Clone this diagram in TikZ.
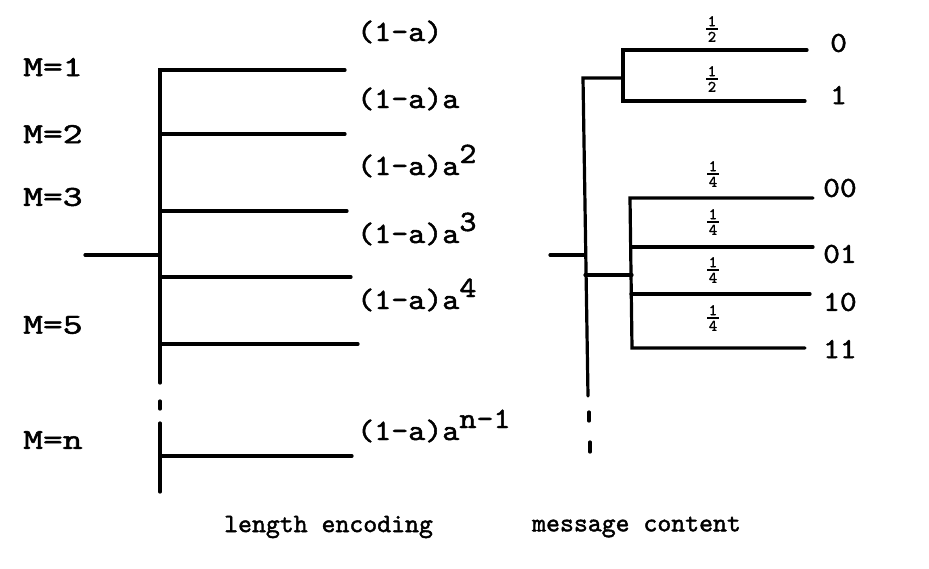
\documentclass[tikz,border=0pt]{standalone}
\usepackage{graphicx}
\usepackage{fontspec}
% typewriter face: Latin Modern Mono, thickened
\newfontfamily\typeface{lmmono10-regular.otf}[FakeBold=1.6]
\newcommand{\wide}[2][1.3]{\scalebox{#1}[1]{#2}}
\newcommand{\sprs}[1]{\raisebox{12pt}{#1}}
% small stacked fraction: numerator, bar, denominator
\newcommand{\probfrac}[2]{\vbox{\hbox to 12pt{\hss#1\hss}\kern2.2pt
  \hrule height 1.3pt\kern2.2pt\hbox to 12pt{\hss#2\hss}}}
\begin{document}
\begin{tikzpicture}[x=1pt,y=-1pt,
  branch/.style={line width=3.2pt,line cap=round,line join=miter},
  prob/.style={font=\typeface\fontsize{29.5}{29.5}\selectfont,inner sep=0pt,anchor=base west},
  mlabel/.style={font=\typeface\fontsize{29}{29}\selectfont,inner sep=0pt,anchor=west},
  code/.style={font=\typeface\fontsize{29}{29}\selectfont,inner sep=0pt,anchor=west},
  half/.style={font=\typeface\fontsize{16}{16}\selectfont,inner sep=0pt},
  caption/.style={font=\typeface\fontsize{26.5}{26.5}\selectfont,inner sep=0pt,anchor=west}]
\path[use as bounding box,fill=white] (0,0) rectangle (929,568);

% ---------- length encoding tree ----------
\coordinate (Lin) at (85,255);
\coordinate (Lj)  at (160,255);
\coordinate (Lmid) at (160,383);
\coordinate (Ld1) at (160,401);
\coordinate (Ld2) at (160,409);
\coordinate (Lbt) at (160,423);
\coordinate (Lbb) at (160,492);
\foreach \i/\y/\x in {1/70/345,2/134/345,3/211/347,4/277/351,5/344/358,n/456/352}{
  \coordinate (Lb\i) at (160,\y);
  \coordinate (Le\i) at (\x,\y);
}
\draw[branch] (Lin) -- (Lj);
\draw[branch] (Le1) -- (Lb1) -- (Lmid);
\draw[branch] (Ld1) -- (Ld2);
\draw[branch] (Lbt) -- (Lbb);
\foreach \i in {2,3,4,5,n}{\draw[branch] (Lb\i) -- (Le\i);}

\node[mlabel] (m1) at (23,67)  {\wide{M=1}};
\node[mlabel] (m2) at (23,134) {\wide{M=2}};
\node[mlabel] (m3) at (23,197) {\wide{M=3}};
\node[mlabel] (m5) at (23,325) {\wide{M=5}};
\node[mlabel] (mn) at (23,440) {\wide{M=n}};

\node[prob] (p1) at (357,41)  {\wide[1.1]{(1-a)}};
\node[prob] (p2) at (357,108) {\wide[1.1]{(1-a)a}};
\node[prob] (p3) at (357,175) {\wide[1.1]{(1-a)a\sprs{2}}};
\node[prob] (p4) at (357,243) {\wide[1.1]{(1-a)a\sprs{3}}};
\node[prob] (p5) at (357,309) {\wide[1.1]{(1-a)a\sprs{4}}};
\node[prob] (pn) at (357,440) {\wide[1.1]{(1-a)a\sprs{n-1}}};

% ---------- message content tree ----------
\coordinate (Rin) at (550,255);
\coordinate (Rj)  at (584,255);
\coordinate (Rtop) at (583,78);
\coordinate (Rbot) at (588,396);
\coordinate (Ta)  at (623,78);
\coordinate (Rc)  at (585,275);
\coordinate (Bc)  at (632,275);
\coordinate (Rd1) at (589,412);
\coordinate (Rd2) at (589,421);
\coordinate (Rd3) at (590,442);
\coordinate (Rd4) at (590,452);
\draw[branch] (Rin) -- (Rj);
\draw[branch] (Ta) -- (Rtop) -- (Rbot);
\draw[branch] (Rc) -- (Bc);
\draw[branch] (Rd1) -- (Rd2);
\draw[branch] (Rd3) -- (Rd4);

% one-bit messages
\coordinate (A0) at (623,50);  \coordinate (A0e) at (807,50);
\coordinate (A1) at (623,101); \coordinate (A1e) at (805,101);
\draw[branch] (A0e) -- (A0) -- (A1) -- (A1e);

% two-bit messages
\coordinate (B00) at (630,198); \coordinate (B00e) at (813,198);
\coordinate (B01) at (631,247); \coordinate (B01e) at (813,247);
\coordinate (B10) at (631,294); \coordinate (B10e) at (810,294);
\coordinate (B11) at (632,348); \coordinate (B11e) at (805,348);
\draw[branch] (B00e) -- (B00) -- (B11) -- (B11e);
\draw[branch] (B01) -- (B01e);
\draw[branch] (B10) -- (B10e);

\node[half] (h1) at (712,29)  {\probfrac{1}{2}};
\node[half] (h2) at (712,79)  {\probfrac{1}{2}};
\node[half] (q1) at (713,174) {\probfrac{1}{4}};
\node[half] (q2) at (713,222) {\probfrac{1}{4}};
\node[half] (q3) at (713,270) {\probfrac{1}{4}};
\node[half] (q4) at (713,318) {\probfrac{1}{4}};

\node[code] (c0)  at (830,43)  {\wide[1.1]{0}};
\node[code] (c1)  at (830,95)  {\wide[1.1]{1}};
\node[code] (c00) at (823,188) {\wide[1.1]{00}};
\node[code] (c01) at (823,254) {\wide[1.1]{01}};
\node[code] (c10) at (823,302) {\wide[1.1]{10}};
\node[code] (c11) at (823,349) {\wide[1.1]{11}};

% ---------- captions ----------
\node[caption] (capL) at (224,527) {length encoding};
\node[caption] (capR) at (532,527) {message content};
\end{tikzpicture}
\end{document}
